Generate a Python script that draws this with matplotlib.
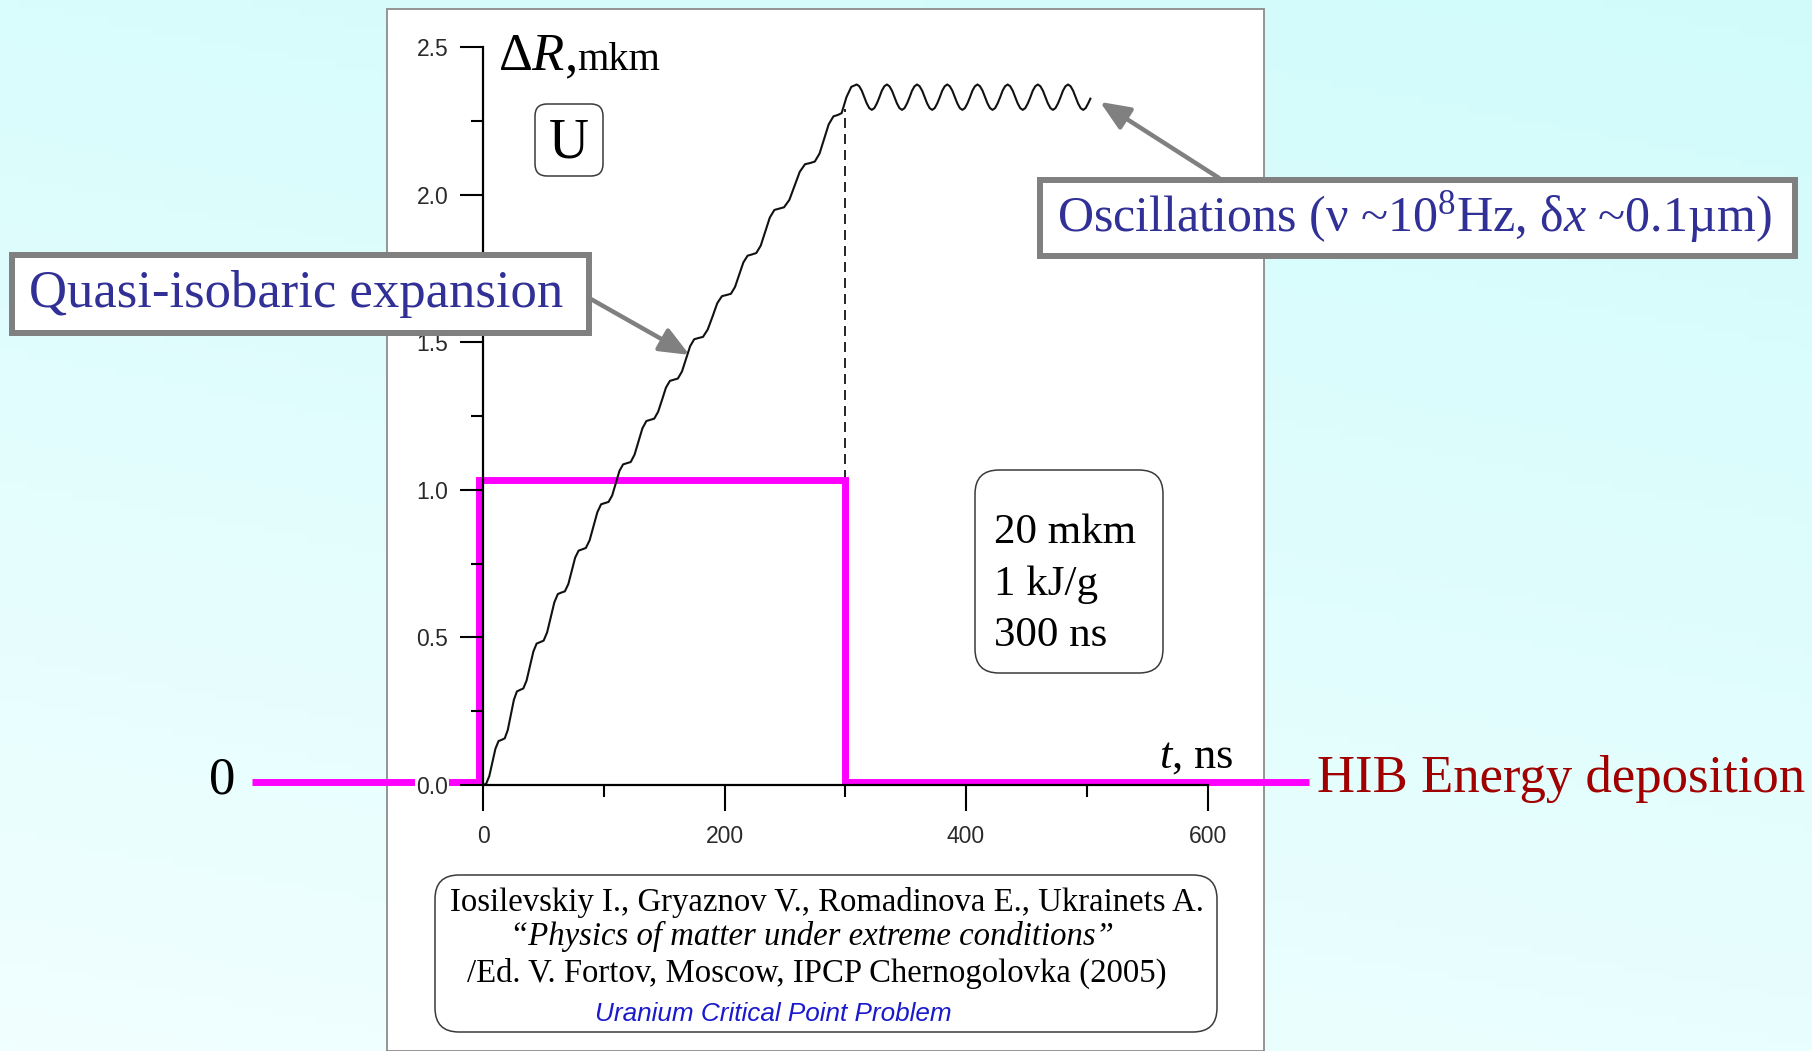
import numpy as np
import matplotlib
matplotlib.use("Agg")
import matplotlib.pyplot as plt
from matplotlib.patches import FancyBboxPatch, Rectangle
from matplotlib.ticker import FixedLocator

plt.rcParams['mathtext.fontset'] = 'custom'
plt.rcParams['mathtext.rm'] = 'Liberation Serif'
plt.rcParams['mathtext.it'] = 'Liberation Serif:italic'
plt.rcParams['mathtext.bf'] = 'Liberation Serif:bold'
plt.rcParams['font.family'] = ['Liberation Sans', 'DejaVu Sans']

# ---------------------------------------------------------------- data
# radius increment dR (mkm) vs time t (ns): quasi-isobaric growth phase
t_rise = [
    0.0, 2.6, 5.2, 7.8, 10.3, 12.9,
    15.5, 18.0, 20.5, 23.1, 25.6, 28.1,
    30.6, 33.4, 36.1, 38.9, 41.7, 44.4,
    47.2, 50.2, 53.1, 56.1, 59.1, 62.0,
    65.0, 67.8, 70.7, 73.5, 76.3, 79.2,
    82.0, 85.2, 88.3, 91.5, 94.7, 97.8,
    101.0, 104.0, 107.0, 110.0, 113.0, 116.0,
    119.0, 122.3, 125.5, 128.8, 132.0, 135.3,
    138.5, 141.8, 145.0, 148.3, 151.5, 154.8,
    158.0, 161.4, 164.8, 168.2, 171.5, 174.9,
    178.3, 182.2, 186.1, 190.1, 194.0, 197.9,
    201.8, 205.3, 208.7, 212.2, 215.6, 219.1,
    222.5, 226.3, 230.0, 233.8, 237.5, 241.3,
    245.0, 249.3, 253.7, 258.0, 262.3, 266.7,
    271.0, 274.8, 278.7, 282.5, 286.3, 290.2,
    294.0, 297.0, 301.0, 305.0,
]
r_rise = [
    0.000, 0.004, 0.030, 0.077, 0.123, 0.149,
    0.153, 0.158, 0.186, 0.238, 0.289, 0.317,
    0.322, 0.327, 0.354, 0.403, 0.452, 0.479,
    0.484, 0.489, 0.517, 0.568, 0.619, 0.647,
    0.652, 0.656, 0.681, 0.725, 0.770, 0.794,
    0.798, 0.803, 0.829, 0.877, 0.924, 0.951,
    0.955, 0.959, 0.981, 1.023, 1.064, 1.086,
    1.090, 1.094, 1.119, 1.164, 1.208, 1.233,
    1.237, 1.241, 1.264, 1.305, 1.346, 1.369,
    1.373, 1.377, 1.401, 1.444, 1.486, 1.510,
    1.514, 1.518, 1.543, 1.587, 1.632, 1.656,
    1.660, 1.664, 1.687, 1.729, 1.770, 1.793,
    1.797, 1.802, 1.827, 1.875, 1.922, 1.948,
    1.952, 1.957, 1.982, 2.030, 2.077, 2.103,
    2.107, 2.112, 2.139, 2.189, 2.238, 2.265,
    2.270, 2.276, 2.330, 2.365,
]

# oscillation phase after the pulse
t_osc = [
    309.5, 311.6, 313.7, 315.8, 317.8, 319.9, 322.0, 324.1, 326.2, 328.3, 330.3, 332.4,
    334.5, 336.6, 338.7, 340.8, 342.8, 344.9, 347.0, 349.1, 351.2, 353.3, 355.3, 357.4,
    359.5, 361.6, 363.7, 365.8, 367.8, 369.9, 372.0, 374.1, 376.2, 378.3, 380.3, 382.4,
    384.5, 386.6, 388.7, 390.8, 392.8, 394.9, 397.0, 399.1, 401.2, 403.3, 405.3, 407.4,
    409.5, 411.6, 413.7, 415.8, 417.8, 419.9, 422.0, 424.1, 426.2, 428.3, 430.3, 432.4,
    434.5, 436.6, 438.7, 440.8, 442.8, 444.9, 447.0, 449.1, 451.2, 453.3, 455.3, 457.4,
    459.5, 461.6, 463.7, 465.8, 467.8, 469.9, 472.0, 474.1, 476.2, 478.3, 480.3, 482.4,
    484.5, 486.6, 488.7, 490.8, 492.8, 494.9, 497.0, 499.1, 501.2, 503.0,
]
r_osc = [
    2.373, 2.367, 2.352, 2.330, 2.309, 2.293, 2.287, 2.293, 2.309, 2.330, 2.352, 2.367,
    2.373, 2.367, 2.352, 2.330, 2.309, 2.293, 2.287, 2.293, 2.309, 2.330, 2.352, 2.367,
    2.373, 2.367, 2.352, 2.330, 2.309, 2.293, 2.287, 2.293, 2.309, 2.330, 2.352, 2.367,
    2.373, 2.367, 2.352, 2.330, 2.309, 2.293, 2.287, 2.293, 2.309, 2.330, 2.352, 2.367,
    2.373, 2.367, 2.352, 2.330, 2.309, 2.293, 2.287, 2.293, 2.309, 2.330, 2.352, 2.367,
    2.373, 2.367, 2.352, 2.330, 2.309, 2.293, 2.287, 2.293, 2.309, 2.330, 2.352, 2.367,
    2.373, 2.367, 2.352, 2.330, 2.309, 2.293, 2.287, 2.293, 2.309, 2.330, 2.352, 2.367,
    2.373, 2.367, 2.352, 2.330, 2.309, 2.293, 2.287, 2.293, 2.309, 2.325,
]

# heavy-ion-beam energy deposition profile (square pulse, 300 ns)
pulse_t = [-191, -3, -3, 300, 300, 684]
pulse_e = [0.01, 0.01, 1.033, 1.033, 0.01, 0.01]

# end of the heating pulse marker
pulse_end_t = [300, 300]
pulse_end_r = [1.033, 2.29]

x_major = [0, 200, 400, 600]
x_minor = [100, 300, 500]
x_labels = ['0', '200', '400', '600']
y_major = [0.0, 0.5, 1.0, 1.5, 2.0, 2.5]
y_minor = [0.25, 0.75, 1.25, 1.75, 2.25]
y_labels = ['0.0', '0.5', '1.0', '1.5', '2.0', '2.5']

params_lines = ['20 mkm', '1 kJ/g', '300 ns']
citation_lines = [
    'Iosilevskiy I., Gryaznov V., Romadinova E., Ukrainets A.',
    '\u201cPhysics of matter under extreme conditions\u201d',
    '/Ed. V. Fortov, Moscow, IPCP Chernogolovka (2005)',
    'Uranium Critical Point Problem',
]

# ---------------------------------------------------------------- figure
W, H, DPI = 1812, 1051, 100
fig = plt.figure(figsize=(W / DPI, H / DPI), dpi=DPI)

# soft cyan backdrop
bg = fig.add_axes([0, 0, 1, 1], zorder=0)
v, u = np.mgrid[0:1:120j, 0:1:200j]
f = np.clip(0.75 * v + 0.25 * (1 - u), 0, 1)[..., None]
c_top = np.array([0.82, 0.985, 0.985])
c_bot = np.array([0.945, 1.0, 1.0])
bg.imshow(c_top * (1 - f) + c_bot * f, extent=[0, 1, 0, 1], aspect='auto', origin='upper')
bg.set_xlim(0, 1)
bg.set_ylim(0, 1)
bg.axis('off')

# white plotting panel
px0, px1, py0, py1 = 387, 1264, 9, 1051
T0, R0 = 483, 785          # pixel position of the data origin
ST, SR = 1.2075, 295.2     # pixels per ns, pixels per mkm
ax = fig.add_axes([px0 / W, 1 - py1 / H, (px1 - px0) / W, (py1 - py0) / H], zorder=1)
ax.set_xlim((px0 - T0) / ST, (px1 - T0) / ST)
ax.set_ylim((R0 - py1) / SR, (R0 - py0) / SR)
ax.set_facecolor('white')
ax.set_axisbelow(False)
ax.add_patch(Rectangle((0, 0), 1, 1, transform=ax.transAxes, fill=False,
                       ec='#8c8c8c', lw=1.3, clip_on=False, zorder=0.5))

for s in ('top', 'right'):
    ax.spines[s].set_visible(False)
ax.spines['left'].set_position(('data', 0))
ax.spines['left'].set_bounds(0, 2.5)
ax.spines['bottom'].set_position(('data', 0))
ax.spines['bottom'].set_bounds(0, 600)
for s in ('left', 'bottom'):
    ax.spines[s].set_linewidth(1.6)
    ax.spines[s].set_color('black')

ax.xaxis.set_major_locator(FixedLocator(x_major))
ax.xaxis.set_minor_locator(FixedLocator(x_minor))
ax.set_xticklabels(x_labels)
ax.yaxis.set_major_locator(FixedLocator(y_major))
ax.yaxis.set_minor_locator(FixedLocator(y_minor))
ax.set_yticklabels(y_labels)
ax.tick_params(axis='y', which='major', direction='out', length=16.5, width=1.5,
               pad=8.5, labelsize=16.5, labelcolor='#2a2a2a')
ax.tick_params(axis='y', which='minor', direction='out', length=8.6, width=1.5)
ax.tick_params(axis='x', which='major', direction='out', length=18.7, width=1.5,
               pad=10, labelsize=16.5, labelcolor='#2a2a2a')
ax.tick_params(axis='x', which='minor', direction='out', length=8.6, width=1.5)
for lbl in ax.get_yticklabels():
    lbl.set_bbox(dict(facecolor='white', edgecolor='none', pad=0.6))

# curves
ax.plot(pulse_t, pulse_e, color='#ff00ff', lw=5.0, solid_joinstyle='miter',
        solid_capstyle='butt', clip_on=False, zorder=2.2)
ax.plot(pulse_end_t, pulse_end_r, color='black', lw=1.2, ls=(0, (6, 3.6)), zorder=2.1)
ax.plot(t_rise + t_osc, r_rise + r_osc, color='#111111', lw=1.5,
        solid_joinstyle='round', zorder=2.3)

# ---------------------------------------------------------------- overlay (pixel units)
ov = fig.add_axes([0, 0, 1, 1], zorder=3)
ov.set_xlim(0, W)
ov.set_ylim(H, 0)
ov.set_facecolor('none')
ov.axis('off')

SERIF = ['Liberation Serif', 'DejaVu Serif']


def rounded(x0, y0, x1, y1, rad, ec='#3a3a3a', lw=1.1):
    ov.add_patch(FancyBboxPatch((x0, y0), x1 - x0, y1 - y0,
                                boxstyle=f'round,pad=0,rounding_size={rad}',
                                fc='white', ec=ec, lw=lw))


def callout(x0, y0, x1, y1):
    ov.add_patch(Rectangle((x0, y0), x1 - x0, y1 - y0, fc='white',
                           ec='#808080', lw=4.3, joinstyle='miter'))


# axis titles
ov.text(498, 70, 'Δ$R$,', fontsize=38, family=SERIF, va='baseline', ha='left')
ov.text(577, 70, 'mkm', fontsize=29, family=SERIF, va='baseline', ha='left')
ov.text(1159, 768, '$t$, ns', fontsize=32, family=SERIF, va='baseline', ha='left')

# material tag
rounded(535, 104, 603, 176, 12)
ov.text(569, 158, 'U', fontsize=40, family=SERIF, va='baseline', ha='center')

# parameters box
rounded(975, 470, 1163, 673, 24)
for yb, line in zip([543, 595, 646], params_lines):
    ov.text(994, yb, line, fontsize=31, family=SERIF, va='baseline', ha='left')

# reference box
rounded(435, 875, 1217, 1032, 24)
ov.text(450, 911, citation_lines[0], fontsize=23.6, family=SERIF, va='baseline')
ov.text(510, 945, citation_lines[1], fontsize=23.6, family=SERIF, style='italic', va='baseline')
ov.text(467, 982, citation_lines[2], fontsize=23.6, family=SERIF, va='baseline')
ov.text(595, 1021, citation_lines[3], fontsize=18.8, style='italic', color='#1a1acc',
        family=['Liberation Sans Narrow', 'Liberation Sans'], va='baseline')

# call-outs
BLUE = '#303096'
callout(12, 255, 589, 333)
ov.text(29, 307, 'Quasi-isobaric expansion', fontsize=38, family=SERIF, color=BLUE,
        va='baseline', ha='left')
callout(1040, 180, 1795, 256)
ov.text(1057, 231, 'Oscillations (ν ~10$^{8}$Hz, δ$x$ ~0.1µm)', fontsize=36,
        family=SERIF, color=BLUE, va='baseline', ha='left')

arrow = dict(arrowstyle='-|>,head_length=0.9,head_width=0.38', color='#808080',
             lw=3.2, mutation_scale=20, shrinkA=0, shrinkB=0)
ov.annotate('', xy=(171, 1.457), xycoords=ax.transData, xytext=(589, 298),
            textcoords='data', arrowprops=arrow)
ov.annotate('', xy=(511, 2.314), xycoords=ax.transData, xytext=(1219, 178),
            textcoords='data', arrowprops=arrow)

# pulse labels
ov.text(209, 793, '0', fontsize=38, family=SERIF, va='baseline', ha='left')
ov.text(1317, 792, 'HIB Energy deposition', fontsize=38, family=SERIF, color='#a00000',
        va='baseline', ha='left')

fig.savefig('out.png', dpi=DPI)
